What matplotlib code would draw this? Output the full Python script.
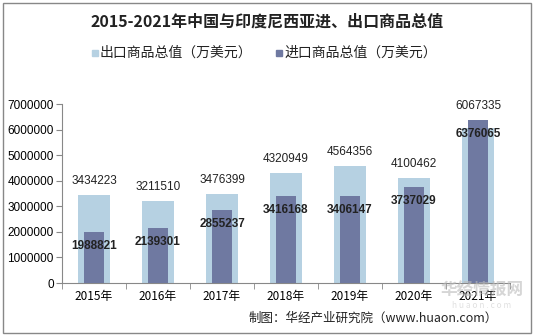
import matplotlib
matplotlib.use("Agg")
import matplotlib.pyplot as plt
from matplotlib.patches import Rectangle
import numpy as np

plt.rcParams["font.family"] = ["Noto Sans CJK SC", "DejaVu Sans"]

years = ["2015年", "2016年", "2017年", "2018年", "2019年", "2020年", "2021年"]
export_vals = [3434223, 3211510, 3476399, 4320949, 4564356, 4100462, 6067335]
import_vals = [1988821, 2139301, 2855237, 3416168, 3406147, 3737029, 6376065]

C_EXPORT = "#B6D1E2"
C_IMPORT = "#6F79A1"

fig = plt.figure(figsize=(5.34, 3.36), dpi=100)
ax = fig.add_axes([62 / 534, 1 - 283 / 336, 448 / 534, 179 / 336])

x = np.arange(len(years))
ax.bar(x, export_vals, width=0.5, color=C_EXPORT, zorder=2)
ax.bar(x, import_vals, width=0.3, color=C_IMPORT, zorder=3)

for i in range(len(years)):
    top = max(export_vals[i], import_vals[i])
    ax.annotate(f"{export_vals[i]}", (x[i], top), xytext=(0, 10),
                textcoords="offset points", ha="center", va="center",
                fontsize=8.5, color="#222222", family=["Liberation Sans"], zorder=5)
    ax.annotate(f"{import_vals[i]}", (x[i], import_vals[i]), xytext=(0, -10),
                textcoords="offset points", ha="center", va="center",
                fontsize=8.5, fontweight="bold", color="#222222",
                family=["Liberation Sans"], zorder=5)

ax.set_xlim(-0.5, len(years) - 0.5)
ax.set_ylim(0, 7000000)
ax.set_yticks(range(0, 7000001, 1000000))
ax.set_yticklabels([str(v) for v in range(0, 7000001, 1000000)],
                   family=["Liberation Sans"], fontsize=8.5)
ax.set_xticks(x)
ax.set_xticklabels(years, fontsize=8.5)
ax.set_xticks(np.arange(-0.5, len(years), 1), minor=True)
ax.tick_params(axis="x", which="major", length=0, pad=5)
ax.tick_params(axis="x", which="minor", length=4, color="#888888", direction="out")
ax.tick_params(axis="y", length=4, color="#888888", direction="out", pad=2)
for s in ["top", "right"]:
    ax.spines[s].set_visible(False)
ax.spines["left"].set_color("#888888")
ax.spines["bottom"].set_color("#888888")

fig.text(0.5, 1 - 22 / 336, "2015-2021年中国与印度尼西亚进、出口商品总值",
         ha="center", va="center", fontsize=11.5, fontweight="bold", color="#222222")

# legend line
fig.patches.append(Rectangle((92 / 534, 1 - 56 / 336), 6 / 534, 6 / 336,
                             transform=fig.transFigure, color=C_EXPORT))
fig.text(100 / 534, 1 - 53 / 336, "出口商品总值（万美元）", ha="left", va="center",
         fontsize=10, color="#222222")
fig.patches.append(Rectangle((276 / 534, 1 - 56 / 336), 6 / 534, 6 / 336,
                             transform=fig.transFigure, color=C_IMPORT))
fig.text(284 / 534, 1 - 53 / 336, "进口商品总值（万美元）", ha="left", va="center",
         fontsize=10, color="#222222")

fig.text(498 / 534, 1 - 318 / 336, "制图：华经产业研究院（www.huaon.com）",
         ha="right", va="center", fontsize=9, color="#222222")

# watermark
fig.text(482 / 534, 1 - 291 / 336, "华经情报网", ha="center", va="center",
         fontsize=12, fontweight="bold", color="#BBBBBB", alpha=0.6, zorder=6)
fig.text(482 / 534, 1 - 306 / 336, "h u a o n . c o m", ha="center", va="center",
         fontsize=6, color="#CCCCCC", alpha=0.6, zorder=6)

fig.patches.append(Rectangle((3 / 534, 3 / 336), 528 / 534, 330 / 336, fill=False,
                             edgecolor="#888888", linewidth=1,
                             transform=fig.transFigure))

fig.savefig("out.png", dpi=100)
